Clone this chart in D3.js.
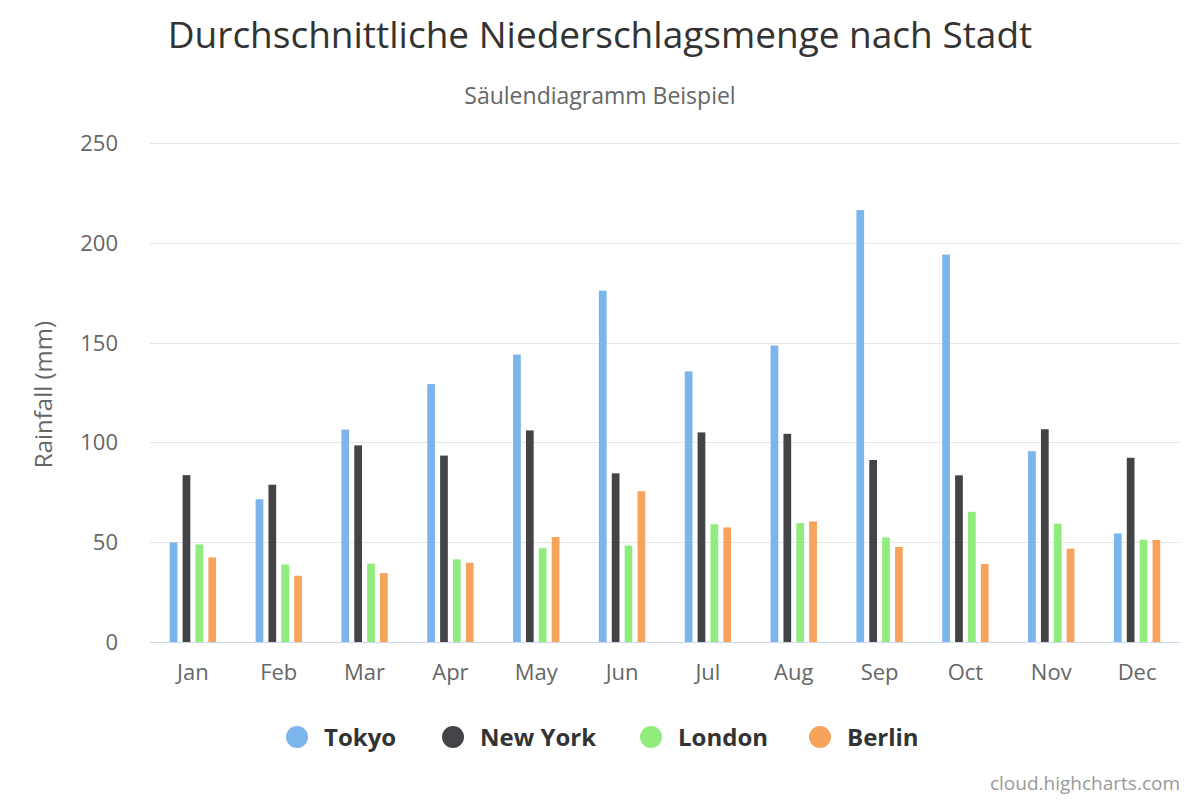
<!DOCTYPE html>
<html lang="de">
<head>
<meta charset="UTF-8">
<title>Durchschnittliche Niederschlagsmenge nach Stadt</title>
<style>
  body { margin: 0; background: #fff; }
  svg { display: block; font-family: "Open Sans", "DejaVu Sans", sans-serif; }
  .grid line { stroke: #e6e6e6; stroke-width: 1; }
  .tick-label { fill: #666; font-size: 22px; }
</style>
</head>
<body>
<div id="chart"></div>
<script src="https://cdn.jsdelivr.net/npm/d3@7"></script>
<script>
// chart data
const months = ["Jan", "Feb", "Mar", "Apr", "May", "Jun", "Jul", "Aug", "Sep", "Oct", "Nov", "Dec"];
const cities = ["Tokyo", "New York", "London", "Berlin"];
const tokyo   = [49.9, 71.5, 106.4, 129.2, 144.0, 176.0, 135.6, 148.5, 216.4, 194.1, 95.6, 54.4];
const newYork = [83.6, 78.8, 98.5, 93.4, 106.0, 84.5, 105.0, 104.3, 91.2, 83.5, 106.6, 92.3];
const london  = [48.9, 38.8, 39.3, 41.4, 47.0, 48.3, 59.0, 59.6, 52.4, 65.2, 59.3, 51.2];
const berlin  = [42.4, 33.2, 34.5, 39.7, 52.6, 75.5, 57.4, 60.4, 47.6, 39.1, 46.8, 51.1];
const yTicks = [0, 50, 100, 150, 200, 250];
const colors = ["#7cb5ec", "#434348", "#90ed7d", "#f7a35c"];

const seriesValues = [tokyo, newYork, london, berlin];

const width = 1200, height = 800;
const plot = { left: 150, right: 1180, top: 143, bottom: 642 };

const svg = d3.select("#chart").append("svg")
  .attr("width", width)
  .attr("height", height);

// title + subtitle
svg.append("text")
  .attr("x", 600).attr("y", 48)
  .attr("text-anchor", "middle")
  .attr("fill", "#333")
  .style("font-size", "37px")
  .text("Durchschnittliche Niederschlagsmenge nach Stadt");

svg.append("text")
  .attr("x", 600).attr("y", 104)
  .attr("text-anchor", "middle")
  .attr("fill", "#666")
  .style("font-size", "23px")
  .text("Säulendiagramm Beispiel");

// scales
const x0 = d3.scaleBand()
  .domain(months)
  .range([plot.left, plot.right])
  .paddingInner(0.4)
  .paddingOuter(0.2);

const x1 = d3.scaleBand()
  .domain(cities)
  .range([0, x0.bandwidth()])
  .paddingInner(0.4)
  .paddingOuter(0.2);

const y = d3.scaleLinear()
  .domain([0, 250])
  .range([plot.bottom, plot.top]);

// gridlines
svg.append("g")
  .attr("class", "grid")
  .selectAll("line")
  .data(yTicks.filter(d => d > 0))
  .join("line")
  .attr("x1", plot.left).attr("x2", plot.right)
  .attr("y1", d => Math.round(y(d)) + 0.5)
  .attr("y2", d => Math.round(y(d)) + 0.5);

// y axis labels
svg.append("g")
  .selectAll("text")
  .data(yTicks)
  .join("text")
  .attr("class", "tick-label")
  .attr("x", 118)
  .attr("y", d => y(d) + 8)
  .attr("text-anchor", "end")
  .text(d => d);

svg.append("text")
  .attr("transform", `translate(52,${(plot.top + plot.bottom) / 2 + 2}) rotate(-90)`)
  .attr("text-anchor", "middle")
  .attr("fill", "#666")
  .style("font-size", "24px")
  .text("Rainfall (mm)");

// bars
const groups = svg.append("g")
  .selectAll("g")
  .data(months)
  .join("g")
  .attr("transform", d => `translate(${x0(d)},0)`);

groups.selectAll("rect")
  .data((m, i) => cities.map((c, s) => ({ city: c, s, value: seriesValues[s][i] })))
  .join("rect")
  .attr("x", d => x1(d.city))
  .attr("width", x1.bandwidth())
  .attr("y", d => y(d.value))
  .attr("height", d => y(0) - y(d.value))
  .attr("fill", d => colors[d.s]);

// x axis line + labels
svg.append("line")
  .attr("x1", plot.left).attr("x2", plot.right)
  .attr("y1", plot.bottom + 0.5).attr("y2", plot.bottom + 0.5)
  .attr("stroke", "#ccd6eb");

svg.append("g")
  .selectAll("text")
  .data(months)
  .join("text")
  .attr("class", "tick-label")
  .attr("x", d => x0(d) + x0.bandwidth() / 2)
  .attr("y", 680)
  .attr("text-anchor", "middle")
  .text(d => d);

// legend
const legendX = [297, 453, 651, 820];
const legend = svg.append("g")
  .selectAll("g")
  .data(cities)
  .join("g")
  .attr("transform", (d, i) => `translate(${legendX[i]},737)`);

legend.append("circle")
  .attr("r", 11)
  .attr("fill", (d, i) => colors[i]);

legend.append("text")
  .attr("x", 27)
  .attr("y", 9)
  .attr("fill", "#333")
  .style("font-size", "24px")
  .style("font-weight", "bold")
  .text(d => d);

// credits
svg.append("text")
  .attr("x", 1180).attr("y", 790)
  .attr("text-anchor", "end")
  .attr("fill", "#999")
  .style("font-size", "19px")
  .text("cloud.highcharts.com");
</script>
</body>
</html>
